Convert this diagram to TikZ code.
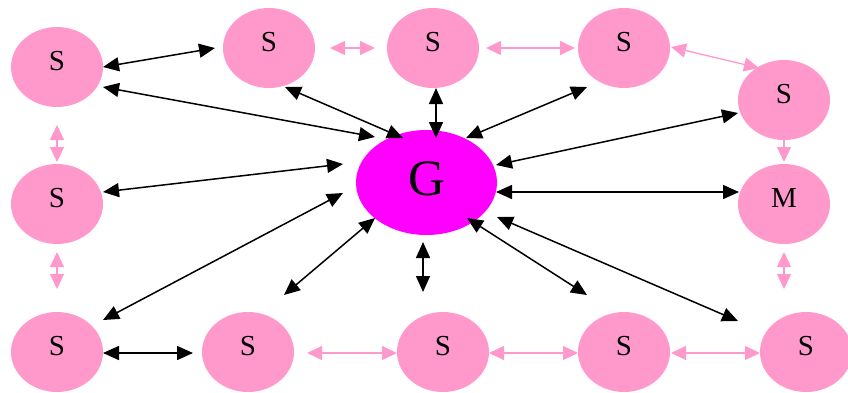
\documentclass[tikz,border=0pt]{standalone}
\usepackage{fontspec}
\setmainfont{Liberation Serif}
\usetikzlibrary{shapes.geometric,arrows.meta}
\definecolor{spink}{RGB}{255,153,204}
\definecolor{gmag}{RGB}{255,0,255}
\tikzset{
  snode/.style={ellipse, fill=spink, draw=none, minimum width=92pt, minimum height=80pt,
    inner sep=0pt, outer sep=0pt, font=\fontsize{29}{29}\selectfont, text depth=12pt},
  gnode/.style={ellipse, fill=gmag, draw=none, minimum width=141pt, minimum height=105pt,
    inner sep=0pt, outer sep=0pt, font=\fontsize{51}{51}\selectfont, text depth=7pt},
  blk/.style={draw=black, line width=1.5pt, {Triangle[length=16pt,width=14pt]}-{Triangle[length=16pt,width=14pt]}},
  pnk/.style={draw=spink, line width=1.3pt, {Triangle[length=15pt,width=14pt]}-{Triangle[length=15pt,width=14pt]}},
  pnkone/.style={draw=spink, line width=1.3pt, -{Triangle[length=15pt,width=14pt]}}
}
\begin{document}
\begin{tikzpicture}[x=1pt,y=-1pt]
\useasboundingbox (0,0) rectangle (848,392);
% nodes
\node[snode] (S1) at (57,67) {S};
\node[snode] (S2) at (269,48) {S};
\node[snode] (S3) at (433,48) {S};
\node[snode] (S4) at (624,48) {S};
\node[snode] (S5) at (784,100) {S};
\node[snode] (SL) at (57,204) {S};
\node[snode] (M) at (784,204) {M};
\node[gnode] (G) at (426.5,182.5) {G};
\node[snode] (B1) at (57,352) {S};
\node[snode] (B2) at (248,352) {S};
\node[snode] (B3) at (443,352) {S};
\node[snode] (B4) at (624,352) {S};
\node[snode] (B5) at (806,352) {S};
% black connectors
\draw[blk] ([shift={(46,0)}]S1.center) -- ([shift={(-54,0)}]S2.center);
\draw[blk] ([shift={(46,20)}]S1.center) -- ([shift={(-51.5,-45.5)}]G.center);
\draw[blk] ([shift={(16,39)}]S2.center) -- ([shift={(-23.5,-44.5)}]G.center);
\draw[blk] ([shift={(3,40)}]S3.center) -- ([shift={(9.5,-44.5)}]G.center);
\draw[blk] ([shift={(-37,39)}]S4.center) -- ([shift={(39.5,-44.5)}]G.center);
\draw[blk] ([shift={(-46,13)}]S5.center) -- ([shift={(69.5,-17.5)}]G.center);
\draw[blk] ([shift={(-45,-12)}]M.center) -- ([shift={(69.5,9.5)}]G.center);
\draw[blk] ([shift={(46,-12)}]SL.center) -- ([shift={(-83.5,-18.5)}]G.center);
\draw[blk] ([shift={(46,-32)}]B1.center) -- ([shift={(-83.5,10.5)}]G.center);
\draw[blk] ([shift={(-51.5,35.5)}]G.center) -- ([shift={(36,-57)}]B2.center);
\draw[blk] ([shift={(-3.5,59.5)}]G.center) -- ([shift={(-20,-60)}]B3.center);
\draw[blk] ([shift={(40.5,35.5)}]G.center) -- ([shift={(-37,-57)}]B4.center);
\draw[blk] ([shift={(70.5,34.5)}]G.center) -- ([shift={(-68,-31)}]B5.center);
\draw[blk] ([shift={(46,1)}]B1.center) -- ([shift={(-55,1)}]B2.center);
% pink connectors
\draw[pnk] ([shift={(61,0)}]S2.center) -- ([shift={(-58,0)}]S3.center);
\draw[pnk] ([shift={(53,0)}]S3.center) -- ([shift={(-49,0)}]S4.center);
\draw[pnk] ([shift={(47,-1)}]S4.center) -- ([shift={(-25,-32)}]S5.center);
\draw[pnkone] ([shift={(0,40)}]S5.center) -- ([shift={(0,-42)}]M.center);
\draw[pnk] ([shift={(0,58)}]S1.center) -- ([shift={(0,-42)}]SL.center);
\draw[pnk] ([shift={(0,48)}]SL.center) -- ([shift={(0,-63)}]B1.center);
\draw[pnk] ([shift={(0,48)}]M.center) -- ([shift={(-22,-63)}]B5.center);
\draw[pnk] ([shift={(59,1)}]B2.center) -- ([shift={(-46,1)}]B3.center);
\draw[pnk] ([shift={(46,1)}]B3.center) -- ([shift={(-46,1)}]B4.center);
\draw[pnk] ([shift={(47,1)}]B4.center) -- ([shift={(-46,1)}]B5.center);
\end{tikzpicture}
\end{document}
